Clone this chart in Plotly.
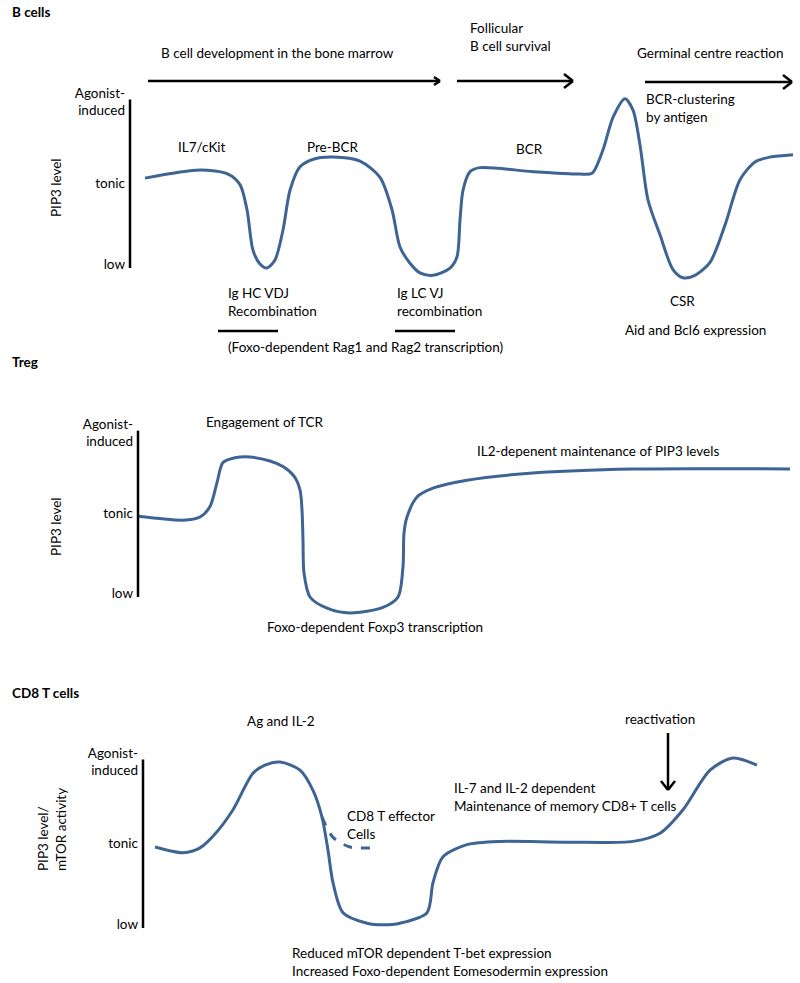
import plotly.graph_objects as go

# ---------------- data ----------------
LEVEL_VALS = [0, 1, 2]
LEVEL_TEXT = ["low", "tonic", "Agonist-<br>induced"]

# B cells: time (arbitrary) vs PIP3 level (0=low, 1=tonic, 2=agonist-induced)
B_X = [145, 200, 228, 240, 247, 253, 260, 267, 275, 283, 290, 300, 315, 333, 360, 380, 392, 400,
       410, 420, 433, 450, 457, 460, 463, 470, 480, 533, 580, 592, 603, 613, 625, 633, 640, 648,
       660, 673, 683, 695, 710, 725, 740, 755, 770, 793]
B_Y = [1.06, 1.16, 1.11, 0.98, 0.67, 0.17, 0.00, -0.05, 0.05, 0.42, 0.91, 1.20, 1.30, 1.32, 1.27,
       1.07, 0.67, 0.21, 0.01, -0.11, -0.14, -0.05, 0.09, 0.54, 0.91, 1.14, 1.19, 1.14, 1.11, 1.12,
       1.41, 1.81, 2.04, 1.90, 1.47, 0.79, 0.36, -0.07, -0.17, -0.14, 0.02, 0.48, 1.04, 1.26, 1.32, 1.35]

# Treg
TREG_X = [138, 160, 183, 200, 210, 217, 223, 235, 250, 270, 283, 294, 300, 302, 303, 304, 310,
          327, 350, 383, 398, 403, 404, 407, 417, 433, 467, 533, 633, 790]
TREG_Y = [0.96, 0.93, 0.91, 0.95, 1.08, 1.38, 1.63, 1.69, 1.70, 1.65, 1.58, 1.46, 1.29, 1.04, 0.66,
          0.25, -0.05, -0.19, -0.25, -0.18, -0.05, 0.33, 0.75, 0.95, 1.20, 1.31, 1.41, 1.50, 1.55, 1.55]

# CD8 T cells (PIP3 level / mTOR activity)
CD8_X = [155, 183, 200, 217, 233, 253, 265, 280, 300, 313, 322, 328, 333, 343, 367, 383, 400, 427,
         433, 443, 467, 500, 567, 633, 660, 683, 710, 733, 757]
CD8_Y = [0.95, 0.88, 0.94, 1.14, 1.41, 1.86, 1.96, 2.00, 1.90, 1.65, 1.32, 0.91, 0.51, 0.14, 0.01,
         -0.01, 0.01, 0.14, 0.51, 0.83, 0.98, 1.02, 1.01, 1.02, 1.12, 1.41, 1.90, 2.05, 1.96]
# CD8 effector branch (dashed)
EFF_X = [322, 333, 350, 372]
EFF_Y = [1.32, 1.07, 0.95, 0.94]

# ---------------- layout helpers ----------------
W, H = 800, 983
FONT = "Lato"
FS = 13.5
CURVE = "#3e6494"


def px(x, y):
    return x / W, 1 - y / H


def ydom(low_px, unit_px, lo=-0.5, hi=2.5):
    return [1 - (low_px - lo * unit_px) / H, 1 - (low_px - hi * unit_px) / H]


panels = [
    # (low pixel, px per level, axis x pixel)
    (264, 81, 130),
    (593, 80, 138),
    (924, 81, 143),
]

fig = go.Figure()
series = [(B_X, B_Y, 1, "solid"), (TREG_X, TREG_Y, 2, "solid"), (CD8_X, CD8_Y, 3, "solid"),
          (EFF_X, EFF_Y, 3, "dash")]
for xs, ys, k, dash in series:
    fig.add_trace(go.Scatter(
        x=xs, y=ys, mode="lines",
        line=dict(color=CURVE, width=3, shape="spline", smoothing=0.8, dash=dash),
        xaxis="x" if k == 1 else f"x{k}", yaxis="y" if k == 1 else f"y{k}",
        hoverinfo="skip"))

layout = dict(width=W, height=H, margin=dict(l=0, r=0, t=0, b=0),
              paper_bgcolor="white", plot_bgcolor="white", showlegend=False,
              font=dict(family=FONT, size=FS, color="black"))
for i, (low, unit, axx) in enumerate(panels, start=1):
    sx = "" if i == 1 else str(i)
    layout[f"xaxis{sx}"] = dict(domain=[0, 1], range=[0, W], visible=False,
                                anchor=f"y{sx}", fixedrange=True)
    layout[f"yaxis{sx}"] = dict(domain=ydom(low, unit), range=[-0.5, 2.5], anchor="free",
                                position=axx / W, showgrid=False, zeroline=False,
                                showline=False, ticks="", tickvals=LEVEL_VALS,
                                ticktext=LEVEL_TEXT, ticklabelstandoff=5, fixedrange=True,
                                tickfont=dict(family=FONT, size=FS, color="black"))
fig.update_layout(**layout)

shapes = []


def seg(x0, y0, x1, y1, w=2.5):
    a, b = px(x0, y0)
    c, d = px(x1, y1)
    shapes.append(dict(type="line", xref="paper", yref="paper", x0=a, y0=b, x1=c, y1=d,
                       line=dict(color="black", width=w)))


def arrow_right(x0, x1, y, hx=9, hy=7):
    seg(x0, y, x1, y)
    seg(x1 - hx, y - hy, x1, y)
    seg(x1 - hx, y + hy, x1, y)


def arrow_down(x, y0, y1, hx=7, hy=9):
    seg(x, y0, x, y1)
    seg(x - hx, y1 - hy, x, y1)
    seg(x + hx, y1 - hy, x, y1)


# axis bars (level axis)
for i, (low, unit, axx) in enumerate(panels, start=1):
    sx = "" if i == 1 else str(i)
    shapes.append(dict(type="line", xref="paper", yref=f"y{sx}", x0=axx / W, x1=axx / W,
                       y0=-0.05, y1=2.03, line=dict(color="black", width=2.5)))

arrow_right(148, 440, 81, hx=6, hy=4)
arrow_right(457, 573, 81)
arrow_right(645, 792, 82)
seg(218, 331, 278, 331)
seg(395, 331, 455, 331)
arrow_down(668, 733, 790)
fig.update_layout(shapes=shapes)

anns = []


def txt(x, y, t, anchor="left", angle=0, bold=False):
    a, b = px(x, y)
    anns.append(dict(x=a, y=b, xref="paper", yref="paper", text=f"<b>{t}</b>" if bold else t,
                     showarrow=False, xanchor=anchor, yanchor="middle", align="left",
                     textangle=angle, font=dict(family=FONT, size=FS, color="black")))


txt(10, 12, "B cells", bold=True)
txt(159, 53, "B cell development in the bone marrow")
txt(468, 37, "Follicular<br>B cell survival")
txt(635, 53, "Germinal centre reaction")
txt(644, 108, "BCR-clustering<br>by antigen")
txt(176, 147, "IL7/cKit")
txt(305, 147, "Pre-BCR")
txt(514, 149, "BCR")
txt(226, 302, "Ig HC VDJ<br>Recombination")
txt(395, 302, "Ig LC VJ<br>recombination")
txt(668, 301, "CSR")
txt(623, 330, "Aid and Bcl6 expression")
txt(226, 347, "(Foxo-dependent Rag1 and Rag2 transcription)")
txt(56, 188, "PIP3 level", anchor="center", angle=-90)

txt(10, 362, "Treg", bold=True)
txt(204, 422, "Engagement of TCR")
txt(475, 451, "IL2-depenent maintenance of PIP3 levels")
txt(265, 627, "Foxo-dependent Foxp3 transcription")
txt(56, 527, "PIP3 level", anchor="center", angle=-90)

txt(10, 693, "CD8 T cells", bold=True)
txt(245, 721, "Ag and IL-2")
txt(345, 825, "CD8 T effector<br>Cells")
txt(452, 797, "IL-7 and IL-2 dependent<br>Maintenance of memory CD8+ T cells")
txt(623, 719, "reactivation")
txt(290, 962, "Reduced mTOR dependent T-bet expression<br>Increased Foxo-dependent Eomesodermin expression")
txt(52, 830, "PIP3 level/<br>mTOR activity", anchor="center", angle=-90)
fig.update_layout(annotations=anns)

fig.write_html("out.html", config={"displayModeBar": False},
               post_script="document.body.style.margin='0';document.body.style.overflow='hidden';")
